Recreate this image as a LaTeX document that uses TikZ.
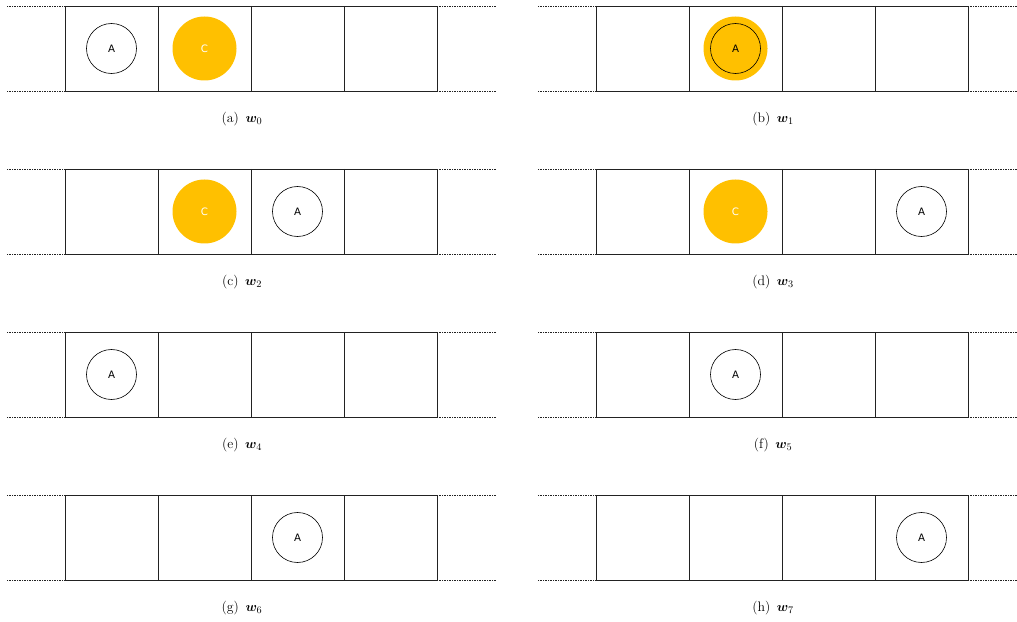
\documentclass[tikz,border=0pt]{standalone}
\usepackage{amsmath}
\usepackage{bm}
\usepackage{fontspec}
\newfontfamily\labelfont{DejaVu Sans}
\definecolor{amber}{HTML}{FFC000}
\definecolor{lineblack}{HTML}{222222}
\tikzset{
  cell/.style={draw=lineblack, line width=0.65pt},
  rail/.style={draw=lineblack, line width=0.6pt, dash pattern=on 1pt off 0.5pt},
  agent/.style={circle, draw=black, line width=0.55pt, fill=white, minimum size=45pt, inner sep=0pt, font=\labelfont\fontsize{9.2}{11}\selectfont},
  crate/.style={circle, fill=amber, minimum size=57.6pt, inner sep=0pt, text=white, font=\labelfont\fontsize{9.2}{11}\selectfont},
  subcap/.style={font=\fontsize{12.4}{14}\selectfont, inner sep=0pt}
}
\newcommand\stripe[2]{%
  \draw[rail] (#1-58,#2) -- (#1,#2);
  \draw[rail] (#1-58,#2+85) -- (#1,#2+85);
  \draw[rail] (#1+372,#2) -- (#1+432,#2);
  \draw[rail] (#1+372,#2+85) -- (#1+432,#2+85);
  \draw[cell] (#1,#2) rectangle (#1+372,#2+85);
  \draw[cell] (#1+93,#2) -- (#1+93,#2+85);
  \draw[cell] (#1+186,#2) -- (#1+186,#2+85);
  \draw[cell] (#1+279,#2) -- (#1+279,#2+85);
}
\begin{document}
\begin{tikzpicture}[x=0.9pt,y=-0.9pt]
\useasboundingbox (0,0) rectangle (1017,622);
\clip (0,0) rectangle (1017,622);
% strips
\stripe{65}{6}
\stripe{596}{6}
\stripe{65}{169}
\stripe{596}{169}
\stripe{65}{332}
\stripe{596}{332}
\stripe{65}{495}
\stripe{596}{495}
% (a)
\node[agent] (aA) at (111.5,48.5) {A};
\node[crate] (aC) at (204.5,48.5) {C};
% (b)
\node[crate] (bC) at (735.5,48.5) {};
\node[agent, fill=none] (bA) at (735.5,48.5) {A};
% (c)
\node[crate] (cC) at (204.5,211.5) {C};
\node[agent] (cA) at (297.5,211.5) {A};
% (d)
\node[crate] (dC) at (735.5,211.5) {C};
\node[agent] (dA) at (921.5,211.5) {A};
% (e)
\node[agent] (eA) at (111.5,374.5) {A};
% (f)
\node[agent] (fA) at (735.5,374.5) {A};
% (g)
\node[agent] (gA) at (297.5,537.5) {A};
% (h)
\node[agent] (hA) at (921.5,537.5) {A};
% captions
\node[subcap] (capa) at (242,119) {(a)\hspace{6pt}$\bm{w}_0$};
\node[subcap] (capb) at (773,119) {(b)\hspace{6pt}$\bm{w}_1$};
\node[subcap] (capc) at (242,282) {(c)\hspace{6pt}$\bm{w}_2$};
\node[subcap] (capd) at (773,282) {(d)\hspace{6pt}$\bm{w}_3$};
\node[subcap] (cape) at (242,445) {(e)\hspace{6pt}$\bm{w}_4$};
\node[subcap] (capf) at (773,445) {(f)\hspace{6pt}$\bm{w}_5$};
\node[subcap] (capg) at (242,608) {(g)\hspace{6pt}$\bm{w}_6$};
\node[subcap] (caph) at (773,608) {(h)\hspace{6pt}$\bm{w}_7$};
\end{tikzpicture}
\end{document}
